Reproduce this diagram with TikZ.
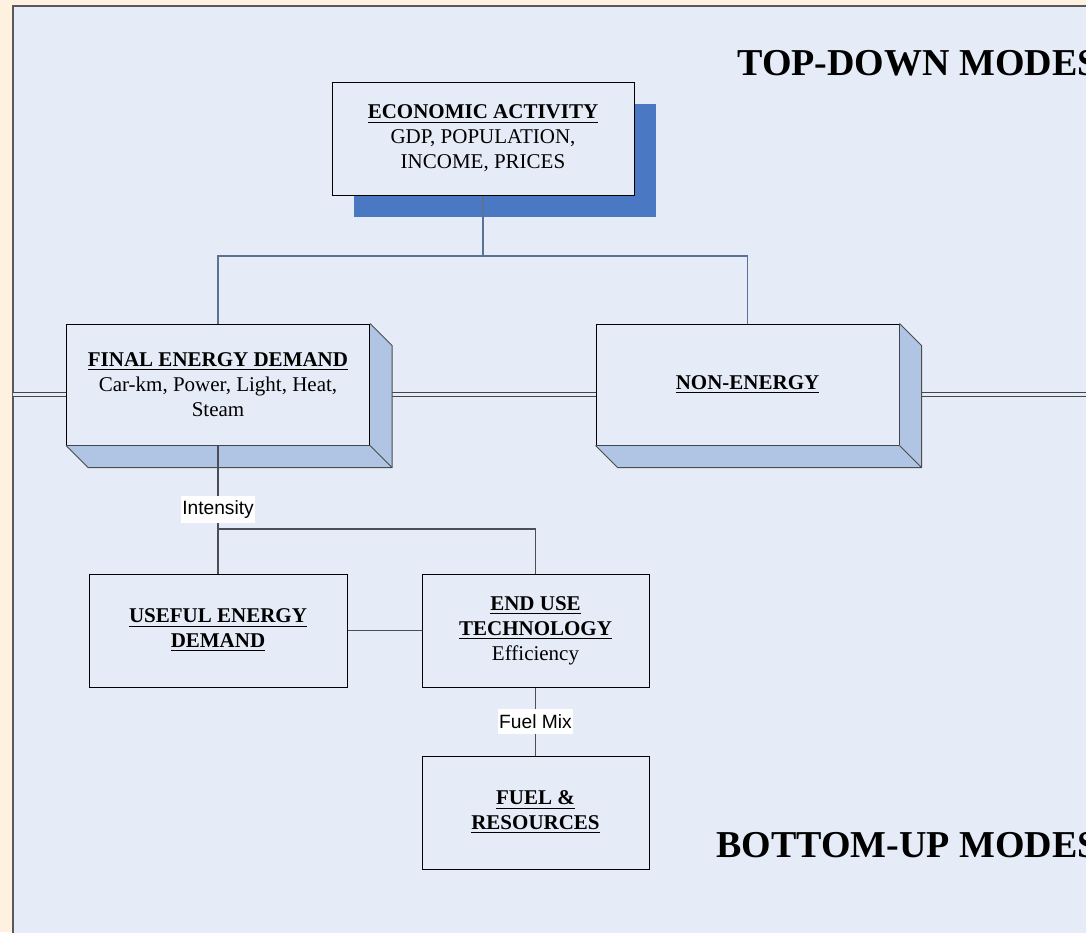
\documentclass[tikz,border=0pt]{standalone}
\usepackage{fontspec}
\setmainfont{Liberation Serif}
\newfontfamily\labelsans{Liberation Sans}
\usetikzlibrary{shadows}

\definecolor{pagebg}{HTML}{FEF1DF}
\definecolor{panelbg}{HTML}{E6ECF7}
\definecolor{facefill}{HTML}{B0C4E4}
\definecolor{shadowblue}{HTML}{4A78C2}
\definecolor{linkblue}{HTML}{5A7296}
\definecolor{linkgray}{HTML}{4A4E56}

\newcommand{\hd}[1]{\textbf{\underline{#1}}}

\begin{document}
\begin{tikzpicture}[x=0.5pt, y=-0.5pt,
	box/.style={draw=black, fill=panelbg, line width=0.5pt, align=center, inner sep=0pt,
		font=\fontsize{10.5}{12.5}\selectfont},
	faceline/.style={draw=gray!60!black, line width=0.5pt, line join=round},
	sepline/.style={draw=gray!55!black, line width=0.5pt, double=panelbg, double distance=1.5pt},
	link/.style={draw=linkgray, line width=0.6pt},
	toplink/.style={draw=linkblue, line width=0.6pt},
	lab/.style={fill=white, inner xsep=0.5pt, inner ysep=2.5pt, font=\labelsans\fontsize{9.6}{10}\selectfont},
	modes/.style={anchor=west, inner sep=0pt, font=\fontsize{19}{22}\selectfont\bfseries}]

	\useasboundingbox (0,0) rectangle (1086,932);
	\fill[pagebg] (0,0) rectangle (1086,932);
	\fill[panelbg] (13,6) rectangle (1090,936);
	\draw[gray!70!black, line width=0.9pt] (13,936) -- (13,6) -- (1090,6);

	% separator between the two modes
	\coordinate (sepwest) at (13,394);
	\coordinate (sepeast) at (1090,394);
	\draw[sepline] (sepwest) -- (sepeast);

	\node[modes] (topdown)  at (737,63)  {TOP-DOWN MODES};
	\node[modes] (bottomup) at (716,845) {BOTTOM-UP MODES};

	\node[box, minimum width=151pt, minimum height=56.5pt,
		drop shadow={shadow xshift=11pt, shadow yshift=-11pt, fill=shadowblue, opacity=1}]
		(econ) at (483,138.5) {\hd{ECONOMIC ACTIVITY}\\GDP, POPULATION,\\INCOME, PRICES};
	\node[box, minimum width=151.5pt, minimum height=60.5pt] (fed)   at (218,384.5)   {\hd{FINAL ENERGY DEMAND}\\Car-km, Power, Light, Heat,\\Steam};
	\node[box, minimum width=151.5pt, minimum height=60.5pt] (nonen) at (747.5,384.5) {\hd{NON-ENERGY}};
	\node[box, minimum width=129pt, minimum height=56.5pt]   (ued)   at (218,630.5)   {\hd{USEFUL ENERGY}\\\hd{DEMAND}};
	\node[box, minimum width=113.5pt, minimum height=56.5pt] (eut)   at (535.5,630.5) {\hd{END USE}\\\hd{TECHNOLOGY}\\Efficiency};
	\node[box, minimum width=113.5pt, minimum height=56.5pt] (fuel)  at (535.5,812.5) {\hd{FUEL \&}\\\hd{RESOURCES}};

	% 3d sides
	\foreach \b in {fed,nonen} {
		\fill[facefill] (\b.north east) -- ++(22,22) -- ([shift={(22,22)}]\b.south east)
			-- ([shift={(22,22)}]\b.south west) -- (\b.south west) -- (\b.south east) -- cycle;
		\draw[faceline] (\b.north east) -- ++(22,22) -- ([shift={(22,22)}]\b.south east)
			-- ([shift={(22,22)}]\b.south west) -- (\b.south west);
		\draw[faceline] (\b.south east) -- ++(22,22);
	}

	\coordinate (split)  at (483,256);
	\coordinate (branch) at (218,529);

	\draw[toplink] (econ.south) -- (split);
	\draw[toplink] (split) -| (fed.north);
	\draw[toplink] (split) -| (nonen.north);

	\draw[link] (fed.south) -- node[lab] (intensity) {Intensity} (ued.north);
	\draw[link] (branch) -| (eut.north);
	\draw[link] (ued.east) -- (eut.west);
	\draw[link] (eut.south) -- node[lab] (fuelmix) {Fuel Mix} (fuel.north);
\end{tikzpicture}
\end{document}
